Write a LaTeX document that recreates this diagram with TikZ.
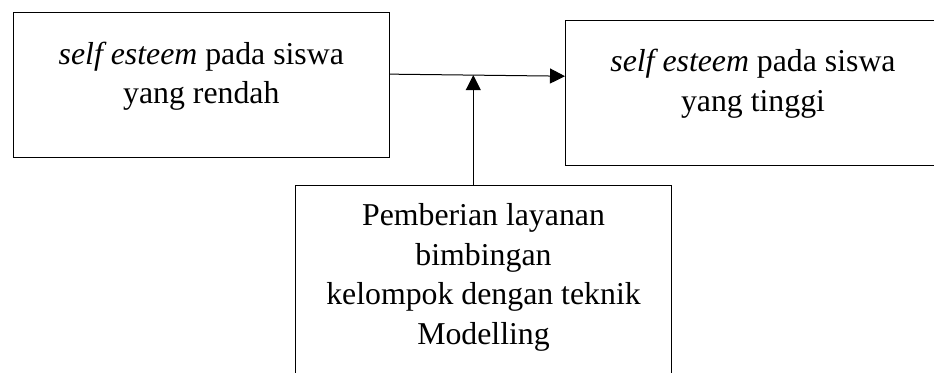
\documentclass[tikz,border=0pt]{standalone}
\usepackage{fontspec}
\setmainfont{Liberation Serif}
\usetikzlibrary{arrows.meta}
\begin{document}
\begin{tikzpicture}[x=1pt,y=1pt,
  box/.style={draw=black, line width=1pt, rectangle, inner sep=0pt, anchor=north west},
  txt/.style={align=center, inner sep=0pt, anchor=base, font=\fontsize{31.8}{39.5}\selectfont},
  arr/.style={line width=1pt, -{Triangle[length=15pt,width=15pt]}}]
\useasboundingbox (0,0) rectangle (934,372);
\node[box, minimum width=376.3pt, minimum height=145.5pt] (low) at (12.7,360) {};
\node[box, minimum width=375pt, minimum height=145pt] (high) at (565,352) {};
\node[box, minimum width=376pt, minimum height=210pt] (treat) at (295,187) {};
\node[txt] (lowtxt) at ([yshift=-91.8pt]low.north) {\textit{self esteem} pada siswa\\yang rendah};
\node[txt] (hightxt) at ([yshift=-91.2pt]high.north) {\textit{self esteem} pada siswa\\yang tinggi};
\node[txt] (treattxt) at ([yshift=-159.2pt]treat.north) {Pemberian layanan\\bimbingan\\kelompok dengan teknik\\Modelling};
\draw[arr] ([yshift=11.1pt]low.east) -- ([yshift=16.8pt]high.west)
  coordinate[pos=0.476] (meet);
\draw[arr] (meet|-treat.north) -- (meet);
\end{tikzpicture}
\end{document}
